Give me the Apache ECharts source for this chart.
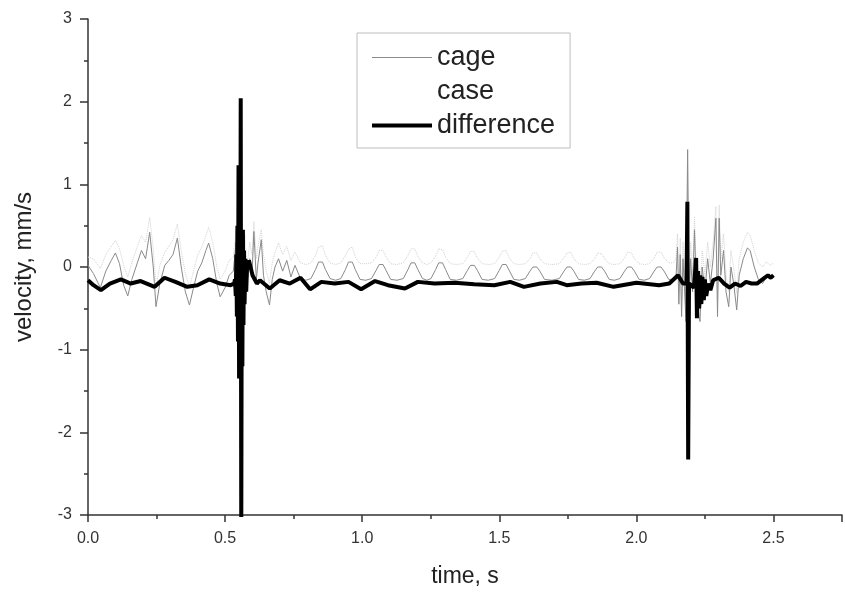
<!DOCTYPE html>
<html>
<head>
<meta charset="utf-8">
<script src="https://cdn.jsdelivr.net/npm/echarts@6/dist/echarts.min.js"></script>
<style>html,body{margin:0;padding:0;background:#fff;}#c{width:845px;height:597px;}</style>
</head>
<body>
<div id="c"></div>
<script>
// ---- data ----
const seriesNames = ['cage', 'case', 'difference'];
const xTicks = [0.0, 0.5, 1.0, 1.5, 2.0, 2.5];
const yTicks = [-3, -2, -1, 0, 1, 2, 3];

const tCage = [
  0.000,0.020,0.045,0.065,0.085,0.100,0.115,0.130,0.145,0.160,0.180,0.195,0.210,0.225,0.238,0.248,0.262,0.280,0.295,0.310,
  0.326,0.340,0.355,0.370,0.385,0.400,0.415,0.430,0.440,0.455,0.470,0.482,0.500,0.515,0.530,0.540,0.545,0.550,0.555,0.560,
  0.565,0.572,0.580,0.590,0.598,0.605,0.614,0.620,0.632,0.640,0.650,0.662,0.672,0.682,0.695,0.710,0.725,0.740,0.755,0.775,
  0.795,
  0.813,0.830,0.841,0.855,0.866,0.883,0.903,
  0.922,0.939,0.950,0.964,0.975,0.992,1.013,
  1.034,1.051,1.062,1.076,1.087,1.104,1.127,
  1.150,1.167,1.178,1.192,1.203,1.220,1.236,
  1.251,1.268,1.279,1.293,1.304,1.321,1.344,
  1.367,1.384,1.395,1.409,1.420,1.437,1.460,
  1.483,1.500,1.511,1.525,1.536,1.553,1.574,
  1.595,1.612,1.623,1.637,1.648,1.665,1.692,
  1.719,1.736,1.747,1.761,1.772,1.789,1.810,
  1.831,1.848,1.859,1.873,1.884,1.901,1.920,
  1.940,1.957,1.968,1.982,1.993,2.010,2.029,
  2.048,2.065,2.076,2.090,2.101,2.118,2.135,
  2.145,2.150,2.155,2.160,2.165,2.170,2.176,2.181,2.187,2.192,2.198,2.205,2.212,2.218,2.225,2.232,2.240,2.250,2.260,2.270,
  2.280,2.290,2.296,2.302,2.308,2.318,2.327,2.337,2.345,2.355,2.366,2.375,2.390,2.405,2.415,2.430,2.445,2.460,2.475,2.490,
  2.500
];
const cage = [
  0.02,-0.08,-0.25,-0.05,0.08,0.17,0.04,-0.22,-0.35,-0.15,0.05,0.20,0.10,0.42,0.00,-0.48,-0.20,0.02,0.08,0.15,
  0.35,0.00,-0.30,-0.46,-0.25,-0.05,0.05,0.20,0.29,0.10,-0.20,-0.36,-0.25,-0.10,-0.05,0.30,-0.60,0.80,-0.90,0.50,
  -0.50,0.20,-0.20,0.10,-0.10,0.43,-0.15,0.05,0.33,-0.10,-0.30,-0.46,-0.15,0.00,0.10,-0.05,0.08,-0.12,0.02,-0.14,
  -0.16,
  -0.14,-0.03,0.06,0.06,-0.03,-0.14,-0.16,
  -0.14,-0.03,0.06,0.06,-0.03,-0.15,-0.16,
  -0.14,-0.04,0.03,0.03,-0.04,-0.15,-0.16,
  -0.14,-0.03,0.05,0.05,-0.03,-0.14,-0.16,
  -0.14,-0.03,0.05,0.05,-0.03,-0.15,-0.16,
  -0.14,-0.04,0.02,0.02,-0.04,-0.15,-0.16,
  -0.14,-0.04,0.03,0.03,-0.04,-0.15,-0.16,
  -0.14,-0.05,0.00,0.00,-0.05,-0.15,-0.16,
  -0.14,-0.05,0.00,0.00,-0.05,-0.15,-0.16,
  -0.14,-0.05,0.00,0.00,-0.05,-0.15,-0.16,
  -0.14,-0.05,0.00,0.00,-0.05,-0.15,-0.16,
  -0.14,-0.05,0.00,0.00,-0.05,-0.15,-0.15,
  -0.10,0.24,-0.45,0.15,-0.60,0.10,-0.30,-0.66,1.42,-0.40,0.10,-0.30,0.45,-0.20,-0.50,-0.66,0.00,-0.30,0.10,-0.20,
  0.10,0.59,-0.60,0.59,-0.10,0.20,-0.30,-0.48,0.00,-0.20,-0.52,-0.10,0.10,0.23,0.20,0.00,-0.15,-0.20,-0.12,-0.15,
  -0.10
];
const caseV = [
  0.12,0.10,-0.02,0.15,0.25,0.32,0.22,0.02,-0.12,0.05,0.25,0.38,0.30,0.60,0.22,-0.25,0.02,0.18,0.25,0.33,
  0.52,0.20,-0.08,-0.24,-0.05,0.15,0.24,0.38,0.48,0.30,0.00,-0.15,-0.05,0.08,0.12,0.45,-0.40,0.95,-0.70,0.70,
  -0.30,0.40,0.00,0.30,0.15,0.55,0.10,0.25,0.45,0.15,-0.05,-0.20,0.05,0.18,0.29,0.15,0.25,0.08,0.18,0.05,
  0.03,
  0.05,0.14,0.24,0.26,0.14,0.05,0.03,
  0.05,0.14,0.22,0.24,0.12,0.04,0.04,
  0.05,0.12,0.20,0.20,0.12,0.04,0.03,
  0.05,0.14,0.22,0.22,0.13,0.05,0.03,
  0.05,0.13,0.22,0.21,0.12,0.04,0.03,
  0.04,0.12,0.19,0.19,0.11,0.04,0.03,
  0.04,0.12,0.19,0.20,0.11,0.04,0.03,
  0.04,0.10,0.17,0.17,0.10,0.04,0.03,
  0.04,0.11,0.17,0.18,0.10,0.04,0.03,
  0.04,0.10,0.17,0.16,0.10,0.04,0.03,
  0.04,0.11,0.18,0.17,0.10,0.04,0.03,
  0.04,0.11,0.18,0.18,0.11,0.05,0.05,
  0.10,0.40,-0.25,0.35,-0.40,0.30,-0.10,-0.45,1.30,-0.20,0.30,-0.10,0.60,0.00,-0.30,-0.45,0.20,-0.10,0.30,0.00,
  0.30,0.73,-0.40,0.75,0.10,0.40,-0.10,-0.30,0.20,0.00,-0.32,0.10,0.30,0.42,0.38,0.20,0.05,0.00,0.06,0.02,
  0.05
];

const tDiff = [
  0.000,0.020,0.047,0.080,0.120,0.156,0.192,0.243,0.279,0.319,0.362,0.399,0.442,0.482,0.520,0.533,
  0.536,0.539,0.541,0.543,0.545,0.547,0.549,0.551,0.553,0.555,0.557,0.559,0.561,0.563,0.565,0.567,0.569,0.571,0.574,0.577,
  0.580,0.587,0.600,0.616,0.627,0.663,0.699,0.736,0.775,0.810,0.851,0.900,0.950,0.996,1.047,1.094,1.156,1.203,1.264,1.337,
  1.409,1.482,1.540,1.590,1.650,1.710,1.746,1.800,1.855,1.917,2.000,2.083,2.120,2.152,2.170,2.183,2.186,2.189,2.192,2.200,
  2.210,2.218,2.221,2.225,2.229,2.233,2.237,2.241,2.246,2.250,2.255,2.262,2.270,2.280,2.300,2.320,2.340,2.360,2.380,2.400,
  2.420,2.440,2.460,2.480,2.490,2.500
];
const diff = [
  -0.16,-0.22,-0.28,-0.20,-0.15,-0.20,-0.17,-0.24,-0.13,-0.18,-0.24,-0.22,-0.15,-0.20,-0.22,-0.20,
  -0.15,-0.35,0.15,-0.60,0.50,-0.90,1.23,-1.35,0.60,-1.10,2.04,-3.30,0.30,-1.20,0.45,-0.70,0.20,-0.45,0.10,-0.30,
  0.00,0.08,-0.10,-0.20,-0.16,-0.26,-0.16,-0.20,-0.13,-0.27,-0.18,-0.20,-0.18,-0.27,-0.17,-0.22,-0.26,-0.18,-0.20,-0.19,
  -0.21,-0.22,-0.18,-0.24,-0.20,-0.18,-0.22,-0.20,-0.19,-0.24,-0.19,-0.22,-0.20,-0.10,-0.20,-0.20,0.79,-2.33,-0.20,-0.22,
  -0.25,0.11,-0.62,-0.05,-0.50,-0.10,-0.45,-0.12,-0.40,-0.15,-0.35,-0.20,-0.28,-0.16,-0.13,-0.20,-0.25,-0.20,-0.23,-0.18,
  -0.20,-0.20,-0.15,-0.10,-0.13,-0.10
];

// ---- chart ----
const FONT = '"Liberation Sans", Arial, sans-serif';
const chart = echarts.init(document.getElementById('c'), null, {renderer: 'canvas'});
const pairs = (ts, vs) => ts.map((t, i) => [t, vs[i]]);

chart.setOption({
  animation: false,
  backgroundColor: '#ffffff',
  grid: {left: 88, right: 0, top: 19, bottom: 82, containLabel: false},
  legend: {
    left: 357, top: 33, orient: 'vertical',
    padding: [11, 15, 9, 13],
    itemWidth: 60, itemHeight: 14, itemGap: 7,
    borderColor: '#bdbdbd', borderWidth: 1,
    itemStyle: {opacity: 0},
    textStyle: {fontFamily: FONT, fontSize: 27, color: '#222', lineHeight: 27},
    data: [
      {name: seriesNames[0], itemStyle: {opacity: 0}, lineStyle: {width: 1, color: '#8a8a8a'}},
      {name: seriesNames[1], lineStyle: {opacity: 0}, itemStyle: {opacity: 0}},
      {name: seriesNames[2], itemStyle: {opacity: 0}, lineStyle: {width: 4, color: '#000'}}
    ]
  },
  xAxis: {
    type: 'value', min: 0, max: 2.75, interval: 0.5,
    name: 'time, s', nameLocation: 'middle', nameGap: 50,
    nameTextStyle: {fontFamily: FONT, fontSize: 23, color: '#222'},
    axisLine: {onZero: false, lineStyle: {color: '#333', width: 1.5}},
    axisTick: {show: true, length: 7, lineStyle: {color: '#333', width: 1.5}},
    minorTick: {show: true, splitNumber: 2, length: 4, lineStyle: {color: '#333', width: 1.5}},
    splitLine: {show: false},
    axisLabel: {
      margin: 16, fontFamily: FONT, fontSize: 16, color: '#333',
      formatter: v => (xTicks.some(t => Math.abs(t - v) < 1e-9) ? v.toFixed(1) : '')
    }
  },
  yAxis: {
    type: 'value', min: -3, max: 3, interval: 1,
    name: 'velocity, mm/s', nameLocation: 'middle', nameGap: 52, nameRotate: 90,
    nameTextStyle: {fontFamily: FONT, fontSize: 24, color: '#222'},
    axisLine: {show: true, lineStyle: {color: '#333', width: 1.5}},
    axisTick: {show: true, length: 8, lineStyle: {color: '#333', width: 1.5}},
    minorTick: {show: true, splitNumber: 2, length: 4, lineStyle: {color: '#333', width: 1.5}},
    splitLine: {show: false},
    axisLabel: {
      margin: 16, fontFamily: FONT, fontSize: 16, color: '#333',
      formatter: v => (yTicks.includes(v) ? String(v) : '')
    }
  },
  series: [
    {
      name: seriesNames[0], type: 'line', data: pairs(tCage, cage),
      symbol: 'none', lineStyle: {color: '#8a8a8a', width: 1}, itemStyle: {color: '#8a8a8a'}, z: 2
    },
    {
      name: seriesNames[1], type: 'line', data: pairs(tCage, caseV),
      symbol: 'none', lineStyle: {color: '#d2d2d2', width: 1, type: 'dotted'}, itemStyle: {color: '#d2d2d2'}, z: 1
    },
    {
      name: seriesNames[2], type: 'line', data: pairs(tDiff, diff),
      symbol: 'none', lineStyle: {color: '#000', width: 4}, itemStyle: {color: '#000'}, z: 3
    }
  ]
});
</script>
</body>
</html>
